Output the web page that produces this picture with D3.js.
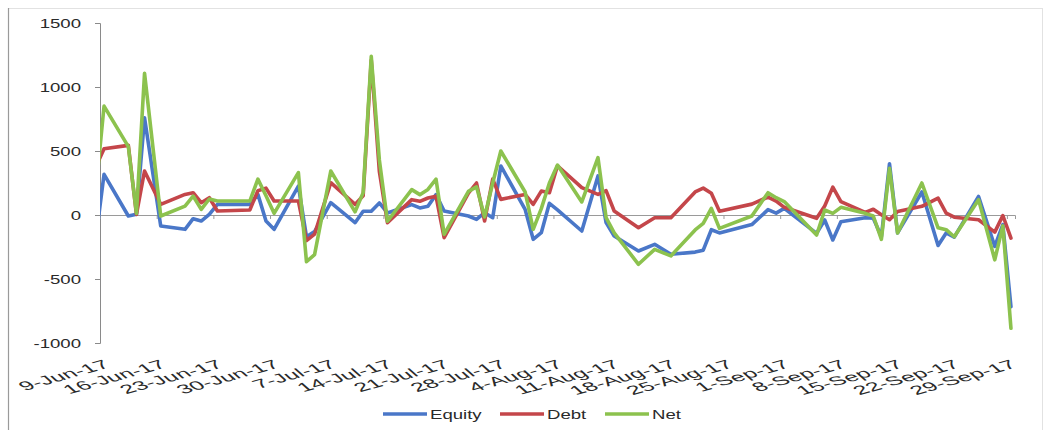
<!DOCTYPE html>
<html>
<head>
<meta charset="utf-8">
<script src="https://cdn.jsdelivr.net/npm/d3@7/dist/d3.min.js"></script>
<style>
  html, body { margin: 0; padding: 0; background: #fff; }
  svg { display: block; }
  text { font-family: "Liberation Sans", Arial, sans-serif; fill: #2a2a2a; }
</style>
</head>
<body>
<svg id="chart" width="1047" height="430"></svg>
<script>
// Daily flows (Rs crore): equity, debt and net, by trading date
const dates = [
  "2017-06-08","2017-06-09","2017-06-12","2017-06-13","2017-06-14","2017-06-16",
  "2017-06-19","2017-06-20","2017-06-21","2017-06-22","2017-06-23","2017-06-27",
  "2017-06-28","2017-06-29","2017-06-30","2017-07-03","2017-07-04","2017-07-05",
  "2017-07-07","2017-07-10","2017-07-11","2017-07-12","2017-07-13","2017-07-14",
  "2017-07-17","2017-07-18","2017-07-19","2017-07-20","2017-07-21","2017-07-24",
  "2017-07-25","2017-07-26","2017-07-27","2017-07-28","2017-07-31","2017-08-01",
  "2017-08-02","2017-08-03","2017-08-04","2017-08-07","2017-08-09","2017-08-10",
  "2017-08-11","2017-08-14","2017-08-16","2017-08-18","2017-08-21","2017-08-22",
  "2017-08-23","2017-08-24","2017-08-28","2017-08-30","2017-08-31","2017-09-01",
  "2017-09-05","2017-09-06","2017-09-07","2017-09-08","2017-09-11","2017-09-12",
  "2017-09-13","2017-09-14","2017-09-15","2017-09-18","2017-09-20","2017-09-21",
  "2017-09-22","2017-09-25","2017-09-27","2017-09-28","2017-09-29"
];
const equity = [
  -178, 318, -8, 5, 760, -86,
  -112, -29, -47, 5, 83, 83,
  161, -47, -112, 226, -170, -130,
  96, -60, 29, 29, 94, 16,
  81, 55, 68, 159, 31, -8,
  -34, 18, -21, 383, 44, -190,
  -138, 91, 40, -125, 305, -60,
  -164, -281, -229, -307, -290, -275,
  -115, -140, -75, 42, 15, 52,
  -143, -39, -195, -52, -21, -26,
  -170, 400, -140, 180, -238, -140,
  -173, 145, -245, -75, -716
];
const debt = [
  378, 518, 544, 5, 344, 83,
  161, 174, 96, 135, 31, 39,
  190, 210, 109, 109, -200, -150,
  253, 83, 150, 1210, 340, -60,
  120, 107, 133, 146, -177, 170,
  250, -47, 280, 122, 161, 83,
  187, 174, 385, 214, 161, 190,
  31, -99, -21, -21, 180, 210,
  170, 30, 85, 140, 109, 60,
  -26, 70, 218, 104, 20, 45,
  2, -37, 28, 68, 132, 15,
  -17, -37, -134, -4, -180
];
const net = [
  200, 851, 534, 13, 1107, -8,
  70, 148, 44, 125, 109, 109,
  280, 150, 13, 331, -365, -310,
  344, 25, 175, 1240, 430, -49,
  198, 159, 200, 280, -151, 185,
  220, -15, 250, 500, 180, -112,
  50, 250, 390, 102, 448, -20,
  -140, -385, -268, -320, -117, -65,
  52, -104, -8, 174, 135, 105,
  -156, 39, 13, 60, 13, -8,
  -190, 365, -140, 250, -100, -115,
  -170, 120, -350, -85, -885
];

const seriesNames = ["Equity", "Debt", "Net"];
const seriesColors = ["#4a77c8", "#c4464a", "#8cc24e"];
const yTicks = [-1000, -500, 0, 500, 1000, 1500];
const axisStart = "2017-06-09";
const axisEnd = "2017-09-30";
const tickLabelWeeks = d3.range(0, 17);

const parse = d3.utcParse("%Y-%m-%d");
const fmt = d3.utcFormat("%-d-%b-%y");
const stretch = 1.55;          // horizontal text scale for axis/legend text
const dateStretch = 2.0;       // horizontal text scale for the slanted dates

const svg = d3.select("#chart");

// outer chart frame
svg.append("rect")
  .attr("x", 8.5).attr("y", 8.5).attr("width", 1034).attr("height", 425)
  .attr("fill", "none").attr("stroke", "#e2e2e2");
svg.append("line")
  .attr("x1", 8.5).attr("x2", 8.5).attr("y1", 8).attr("y2", 430)
  .attr("stroke", "#9a9a9a").attr("stroke-width", 1.2);

const plotLeft = 100, plotRight = 1015, plotTop = 23, plotBottom = 343;

const x = d3.scaleUtc()
  .domain([parse(axisStart), parse(axisEnd)])
  .range([plotLeft, plotRight]);
const y = d3.scaleLinear().domain([-1000, 1500]).range([plotBottom, plotTop]);

const midDay = d => d3.utcHour.offset(d, 12);
const rows = dates.map((d, i) => ({
  date: parse(d), vals: [equity[i], debt[i], net[i]]
}));

// y axis
const yAxis = svg.append("g")
  .attr("transform", `translate(${plotLeft},0)`)
  .call(d3.axisLeft(y).tickValues(yTicks).tickSize(5).tickFormat(d => String(d)));
yAxis.select(".domain").attr("stroke", "#8a8a8a");
yAxis.selectAll(".tick line").attr("stroke", "#8a8a8a");
yAxis.selectAll(".tick text")
  .attr("x", 0).attr("dy", "0.36em")
  .attr("transform", `translate(-19,0) scale(${stretch},1)`)
  .style("font-family", "'Liberation Sans', Arial, sans-serif")
  .style("font-size", "12px").attr("fill", "#2a2a2a");

// x axis along zero with weekly ticks
const tickDates = tickLabelWeeks.map(k => d3.utcDay.offset(parse(axisStart), 7 * k));
const xAxis = svg.append("g")
  .attr("transform", `translate(0,${y(0)})`)
  .call(d3.axisBottom(x).tickValues(tickDates).tickSize(4).tickFormat(""));
xAxis.select(".domain").attr("stroke", "#9a9a9a");
xAxis.selectAll(".tick line").attr("stroke", "#9a9a9a");

// slanted date labels along the bottom
svg.append("g").selectAll("text")
  .data(tickDates)
  .join("text")
  .attr("text-anchor", "end")
  .attr("transform", d => `translate(${x(midDay(d)) + 7},367) scale(${dateStretch},1) rotate(-29)`)
  .style("font-size", "12.5px")
  .attr("fill", "#333")
  .text(d => fmt(d));

// series lines
svg.append("clipPath").attr("id", "plot-clip")
  .append("rect").attr("x", plotLeft).attr("y", 0)
  .attr("width", plotRight - plotLeft).attr("height", 430);

const plot = svg.append("g").attr("clip-path", "url(#plot-clip)");
seriesNames.forEach((name, si) => {
  const line = d3.line()
    .x(r => x(midDay(r.date)))
    .y(r => y(r.vals[si]));
  plot.append("path")
    .datum(rows)
    .attr("fill", "none")
    .attr("stroke", seriesColors[si])
    .attr("stroke-width", 3.6)
    .attr("stroke-linejoin", "round")
    .attr("stroke-linecap", "round")
    .attr("d", line);
});

// legend
const legendX = [383, 500, 605];
const legend = svg.append("g");
seriesNames.forEach((name, si) => {
  const g = legend.append("g").attr("transform", `translate(${legendX[si]},414)`);
  g.append("line").attr("x1", 0).attr("x2", 44).attr("y1", 0).attr("y2", 0)
    .attr("stroke", seriesColors[si]).attr("stroke-width", 3.6);
  g.append("text")
    .attr("transform", `translate(47,4.5) scale(${stretch},1)`)
    .style("font-size", "12px")
    .text(name);
});
</script>
</body>
</html>
